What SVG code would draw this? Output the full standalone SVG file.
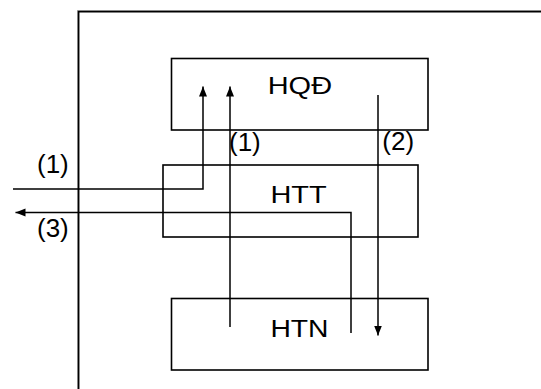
<svg xmlns="http://www.w3.org/2000/svg" width="541" height="389" viewBox="0 0 541 389">
<style>
.box{fill:none;stroke:#000;stroke-width:1.6}
.ln{fill:none;stroke:#000;stroke-width:1.5}
.t{font-family:"Liberation Sans",Arial,sans-serif;font-size:23px;fill:#000}
.l{font-family:"Liberation Sans",Arial,sans-serif;font-size:26px;fill:#000}
</style>
<defs>
<marker id="ah" markerWidth="11" markerHeight="9" refX="10" refY="4" orient="auto" markerUnits="userSpaceOnUse">
<path d="M0,0 L10,4 L0,8 Z" fill="#000"/>
</marker>
</defs>
<rect width="541" height="389" fill="#fff"/>
<g id="frame">
<path d="M77.5,389 V10.5 H541" fill="none" stroke="#888" stroke-width="1"/>
<path d="M78.7,389 V11.7 H541" fill="none" stroke="#000" stroke-width="1.5"/>
</g>
<g id="hqd">
<rect class="box" x="171.5" y="58.5" width="256.5" height="71.5"/>
<text class="t" transform="translate(267.7,93.5) scale(1.26,1)">HQĐ</text>
</g>
<g id="htt">
<rect class="box" x="163" y="165" width="255" height="72"/>
<text class="t" transform="translate(270.4,202.5) scale(1.26,1)">HTT</text>
</g>
<g id="htn">
<rect class="box" x="171.5" y="298.5" width="256.5" height="71.5"/>
<text class="t" transform="translate(270.4,337) scale(1.23,1)">HTN</text>
</g>
<g id="connectors">
<path class="ln" d="M13,189 H203 V86.5" marker-end="url(#ah)"/>
<path class="ln" d="M230,327 V86.5" marker-end="url(#ah)"/>
<path class="ln" d="M378,95 V335.5" marker-end="url(#ah)"/>
<path class="ln" d="M351,333 V212.5 H15.5" marker-end="url(#ah)"/>
</g>
<g id="labels">
<text class="l" x="37" y="172.5">(1)</text>
<text class="l" x="37" y="236.5">(3)</text>
<text class="l" x="229" y="150.5">(1)</text>
<text class="l" x="382.3" y="150">(2)</text>
</g>
</svg>
